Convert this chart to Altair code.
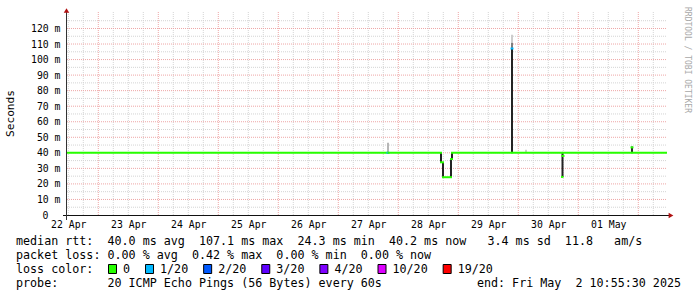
import altair as alt
import pandas as pd

# ---------------- data ----------------
# median RTT drawn as steps: start, end, value in ms, loss class
seg_start = ["2025-04-22T11:29:00Z", "2025-04-27T19:41:00Z", "2025-04-27T20:05:00Z",
             "2025-04-28T17:05:00Z", "2025-04-28T17:53:00Z", "2025-04-28T21:05:00Z",
             "2025-04-28T21:29:00Z", "2025-04-29T21:17:00Z", "2025-04-29T21:41:00Z",
             "2025-04-30T17:29:00Z", "2025-04-30T17:41:00Z", "2025-04-30T18:05:00Z",
             "2025-05-01T21:17:00Z", "2025-05-01T21:41:00Z"]
seg_end = ["2025-04-27T19:41:00Z", "2025-04-27T20:05:00Z", "2025-04-28T17:05:00Z",
           "2025-04-28T17:53:00Z", "2025-04-28T21:05:00Z", "2025-04-28T21:29:00Z",
           "2025-04-29T21:17:00Z", "2025-04-29T21:41:00Z", "2025-04-30T17:29:00Z",
           "2025-04-30T17:41:00Z", "2025-04-30T18:05:00Z", "2025-05-01T21:17:00Z",
           "2025-05-01T21:41:00Z", "2025-05-02T11:05:00Z"]
seg_rtt = [40.0, 40.0, 40.0, 33.9, 24.3, 36.0, 40.0, 107.1, 40.0, 24.5, 38.0, 40.0, 43.5, 40.0]
seg_loss = ["0", "1/20", "0", "0", "0", "0", "0", "1/20", "0", "0", "0", "0", "0", "0"]

# smoke (ping spread) bars: time, low, high (ms), density 0..1
smoke_time = ["2025-04-27T19:53:00Z", "2025-04-28T17:05:00Z", "2025-04-28T17:53:00Z",
              "2025-04-28T21:05:00Z", "2025-04-28T21:29:00Z", "2025-04-29T21:29:00Z",
              "2025-04-29T21:29:00Z", "2025-04-29T21:29:00Z", "2025-04-30T17:41:00Z",
              "2025-05-01T21:29:00Z", "2025-04-30T03:05:00Z"]
smoke_lo = [40.0, 33.9, 24.3, 24.3, 36.0, 40.0, 107.1, 111.0, 24.5, 40.0, 40.0]
smoke_hi = [46.5, 40.0, 33.9, 36.0, 40.0, 107.1, 111.0, 116.0, 40.0, 44.0, 42.0]
smoke_density = [0.25, 0.95, 0.95, 0.95, 0.95, 0.95, 0.5, 0.15, 0.95, 0.9, 0.15]

loss_labels = ["0", "1/20", "2/20", "3/20", "4/20", "10/20", "19/20"]
loss_colors = ["#26ff00", "#00b8ff", "#0059ff", "#5e00ff", "#7e00ff", "#dd00ff", "#ff0000"]

tick_days = ["2025-04-22", "2025-04-23", "2025-04-24", "2025-04-25", "2025-04-26",
             "2025-04-27", "2025-04-28", "2025-04-29", "2025-04-30", "2025-05-01"]
y_ticks = [0, 10, 20, 30, 40, 50, 60, 70, 80, 90, 100, 110, 120]

legend_rtt = "median rtt:  40.0 ms avg  107.1 ms max  24.3 ms min  40.2 ms now   3.4 ms sd  11.8   am/s"
legend_loss = "packet loss: 0.00 % avg  0.42 % max  0.00 % min  0.00 % now"
legend_color = "loss color:"
legend_probe = "probe:       20 ICMP Echo Pings (56 Bytes) every 60s"
legend_end = "end: Fri May  2 10:55:30 2025"
y_title = "Seconds"
watermark = "RRDTOOL / TOBI OETIKER"

# ---------------- layout ----------------
MONO = "DejaVu Sans Mono"
W, H = 600, 203
Y_MAX = 130.6
NB = "\u00a0"
CW = 7.03  # monospace char width of legend font

med_df = pd.DataFrame({"start": seg_start, "end": seg_end, "rtt": seg_rtt, "loss": seg_loss})
smoke_df = pd.DataFrame({"t": smoke_time, "lo": smoke_lo, "hi": smoke_hi, "d": smoke_density})

xscale = alt.Scale(type="utc", domain=[
    alt.DateTime(year=2025, month=4, date=22, hours=11, minutes=29, utc=True),
    alt.DateTime(year=2025, month=5, date=2, hours=11, minutes=29, utc=True)])
yscale = alt.Scale(domain=[0, Y_MAX], nice=False, zero=True)
loss_scale = alt.Scale(domain=loss_labels, range=loss_colors)

day_ticks = [alt.DateTime(year=int(d[0:4]), month=int(d[5:7]), date=int(d[8:10]), hours=12, utc=True)
             for d in tick_days]

xaxis = alt.Axis(values=day_ticks, format="%d %b", title=None, grid=False, ticks=False, domain=False,
                 labelFont=MONO, labelFontSize=9.8, labelColor="#000000", labelPadding=4,
                 labelFlush=False, labelOverlap=False, labelBaseline="top")
yaxis = alt.Axis(values=y_ticks, title=None, grid=False, ticks=False, domain=False,
                 labelExpr="datum.value == 0 ? '0' : datum.value + '" + NB + "m'",
                 labelFont=MONO, labelFontSize=9.8, labelColor="#000000",
                 labelPadding={"condition": {"test": "datum.value == 0", "value": 19}, "value": 7},
                 labelBaseline="middle", labelFlush=False, labelOverlap=False)

X = lambda f: alt.X(f, scale=xscale, axis=xaxis)
Y = lambda f: alt.Y(f, scale=yscale, axis=yaxis)

# grid
xmajor = [t.strftime("%Y-%m-%dT%H:%M:%SZ") for t in pd.date_range("2025-04-23", "2025-05-02", freq="D")]
xminor = [t.strftime("%Y-%m-%dT%H:%M:%SZ") for t in pd.date_range("2025-04-22 12:00", "2025-05-02 06:00", freq="6h")
          if t.hour != 0]
ymajor = list(range(10, 130, 10))
yminor = list(range(5, 130, 10))

GRAY, RED = "#d4d4d4", "#eea6a6"
dash = dict(strokeDash=[1, 1], strokeWidth=1)

g_xminor = alt.Chart(pd.DataFrame({"t": xminor})).mark_rule(color=GRAY, **dash).encode(
    x=X("t:T"), y=alt.value(0), y2=alt.value(H))
g_yminor = alt.Chart(pd.DataFrame({"v": yminor})).mark_rule(color=GRAY, **dash).encode(
    y=Y("v:Q"), x=alt.value(0), x2=alt.value(W))
g_xmajor = alt.Chart(pd.DataFrame({"t": xmajor})).mark_rule(color=RED, **dash).encode(
    x=X("t:T"), y=alt.value(0), y2=alt.value(H))
g_ymajor = alt.Chart(pd.DataFrame({"v": ymajor})).mark_rule(color=RED, **dash).encode(
    y=Y("v:Q"), x=alt.value(0), x2=alt.value(W))

smoke = alt.Chart(smoke_df).mark_rule(strokeWidth=2).encode(
    x=X("t:T"), y=Y("lo:Q"), y2="hi:Q",
    color=alt.Color("d:Q", scale=alt.Scale(domain=[0, 1], range=["#f2f2f2", "#1a1a1a"]), legend=None))

median = alt.Chart(med_df).mark_rule(strokeWidth=2, strokeCap="square").encode(
    x=X("start:T"), x2="end:T", y=Y("rtt:Q"),
    color=alt.Color("loss:N", scale=loss_scale, legend=None))

one = pd.DataFrame({"a": [0]})
axis_x = alt.Chart(one).mark_rule(color="#111111", strokeWidth=1).encode(
    x=alt.value(-4), x2=alt.value(W + 2), y=alt.value(H + 0.5))
axis_y = alt.Chart(one).mark_rule(color="#333333", strokeWidth=1).encode(
    x=alt.value(-0.5), y=alt.value(-1), y2=alt.value(H + 5))
arrow_x = alt.Chart(one).mark_point(shape="triangle-right", filled=True, size=30, color="#b01010", opacity=1).encode(
    x=alt.value(W + 4), y=alt.value(H + 0.5))
arrow_y = alt.Chart(one).mark_point(shape="triangle-up", filled=True, size=30, color="#b01010", opacity=1).encode(
    x=alt.value(-0.5), y=alt.value(-1.5))


def txt(s, x, y, align="left", size=11.7, angle=0, color="#000000", baseline="alphabetic"):
    return alt.Chart(pd.DataFrame({"s": [s.replace(" ", NB)]})).mark_text(
        align=align, baseline=baseline, font=MONO, fontSize=size, angle=angle, color=color).encode(
        text="s:N", x=alt.value(x), y=alt.value(y))


LX = 16 - 67
rows = [233.3, 247.3, 261.3, 275.3]
texts = [
    txt(legend_rtt, LX, rows[0]),
    txt(legend_loss, LX, rows[1]),
    txt(legend_color, LX, rows[2]),
    txt(legend_probe, LX, rows[3]),
    txt(legend_end, 681 - 67, rows[3], align="right"),
    txt(y_title, 10.5 - 67, 101.5, align="center", size=11.2, angle=270, baseline="middle"),
    txt(watermark, 687 - 67, 48, align="center", size=8, angle=90, color="#a8a8a8", baseline="middle"),
]

boxes = []
bx = 108 - 67
for lab, col in zip(loss_labels, loss_colors):
    boxes.append(alt.Chart(one).mark_rect(color=col, stroke="#000000", strokeWidth=1).encode(
        x=alt.value(bx + 0.5), x2=alt.value(bx + 8.5), y=alt.value(252.5), y2=alt.value(261.5)))
    boxes.append(txt(lab, bx + 15, rows[2]))
    bx += 15 + len(lab) * CW + 15

chart = alt.layer(
    g_xminor, g_yminor, g_xmajor, g_ymajor, smoke, median,
    axis_x, axis_y, arrow_x, arrow_y, *texts, *boxes
).resolve_scale(color="independent").properties(
    width=W, height=H,
    padding={"left": 67, "top": 12, "right": 30, "bottom": 82},
    autosize=alt.AutoSizeParams(type="none"),
    background="#ffffff",
).configure_view(stroke=None)

chart.save("out.html", embed_options={"renderer": "svg", "actions": False})
